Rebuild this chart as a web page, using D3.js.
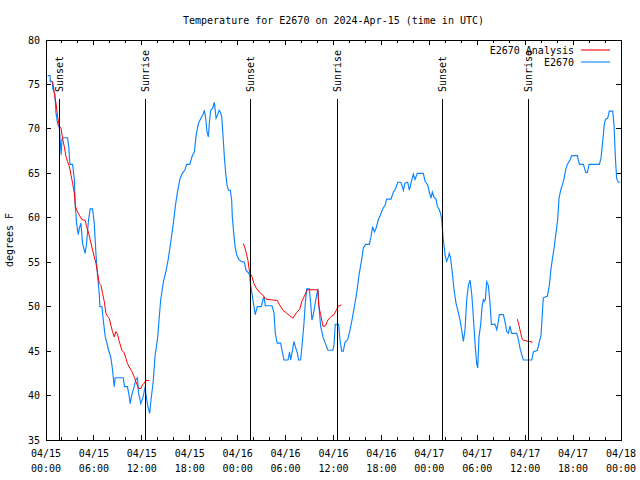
<!DOCTYPE html>
<html>
<head>
<meta charset="utf-8">
<script src="https://cdn.jsdelivr.net/npm/d3@7"></script>
<style>
  html, body { margin: 0; padding: 0; background: #fff; }
  svg text { font-family: "DejaVu Sans Mono", "Liberation Mono", monospace; font-size: 10px; fill: #000; }
</style>
</head>
<body>
<svg id="chart" width="640" height="480"></svg>
<script>
// ---------------- data ----------------
const titleText = "Temperature for E2670 on 2024-Apr-15 (time in UTC)";
const yLabel = "degrees F";
// hours since 04/15 00:00 UTC
const xTickHours = [0, 6, 12, 18, 24, 30, 36, 42, 48, 54, 60, 66, 72];
const xTickDates = ["04/15", "04/15", "04/15", "04/15", "04/16", "04/16", "04/16", "04/16", "04/17", "04/17", "04/17", "04/17", "04/18"];
const xTickTimes = ["00:00", "06:00", "12:00", "18:00", "00:00", "06:00", "12:00", "18:00", "00:00", "06:00", "12:00", "18:00", "00:00"];
const yTicks = [35, 40, 45, 50, 55, 60, 65, 70, 75, 80];

const sunEventHours = [1.67, 12.43, 25.58, 36.48, 49.62, 60.39];
const sunEventNames = ["Sunset", "Sunrise", "Sunset", "Sunrise", "Sunset", "Sunrise"];

const seriesNames = ["E2670 Analysis", "E2670"];

// observed temperature [hour, degF]
const observed = [
  [0.2,76],[0.5,76],[0.55,75.3],[0.8,75.3],[0.85,74.5],[1.1,74],[1.25,71.8],[1.45,70.6],[1.67,70.1],[1.9,67.1],
  [2.0,68.8],[2.15,69],[2.7,69],[2.85,68],[3.0,66],[3.33,66],[3.55,64.3],[3.67,61.3],[3.83,59.4],[4.04,58.1],
  [4.17,58.8],[4.37,59.4],[4.58,57.1],[4.9,56],[5.08,57.1],[5.33,59.8],[5.54,61],[5.83,61],[6.04,59.4],[6.25,56],
  [6.46,53.4],[6.67,51.5],[6.75,50],[7.0,50],[7.17,48.5],[7.42,46.6],[7.63,45.9],[7.83,45.1],[8.1,44.4],[8.33,42.9],
  [8.54,41],[8.67,42],[9.67,42],[9.83,41],[10.2,41],[10.42,39.9],[10.54,39.1],[10.75,40.1],[11.04,41],[11.25,41.8],
  [11.46,42],[11.58,40.3],[11.88,39.1],[12.17,39.9],[12.42,41],[12.5,40.2],[12.73,38.9],[12.98,38],[13.15,39.5],[13.44,41.7],
  [13.65,44.4],[13.99,46.6],[14.15,48.5],[14.36,50.75],[14.7,52.8],[15.0,53.9],[15.3,55.3],[15.66,57.5],[15.95,59.4],[16.24,61.6],
  [16.5,63.1],[16.78,64.4],[17.07,65],[17.4,65.4],[17.6,66],[18.0,66],[18.33,67],[18.58,67.4],[18.8,69.3],[19.08,70.6],
  [19.4,71.2],[19.7,71.7],[19.83,72.1],[20.0,71.2],[20.16,69.7],[20.33,69.1],[20.45,70.6],[20.62,72.1],[20.87,72.3],[21.08,73],
  [21.3,71.2],[21.5,71.6],[21.67,72.1],[21.83,71.9],[22.0,71.4],[22.2,68.8],[22.33,66.9],[22.5,65],[22.67,63.7],[22.83,63.1],
  [23.08,63.1],[23.25,62],[23.33,60.1],[23.5,58.3],[23.67,56.8],[23.88,55.8],[24.17,55.3],[24.42,55.1],[24.84,55],[25.05,54.1],
  [25.34,53.8],[25.5,53.6],[25.62,52.4],[25.79,51.5],[26.04,50],[26.2,49.1],[26.46,50],[26.96,50],[27.17,50.8],[27.29,51.1],
  [27.46,50.1],[28.3,50.1],[28.55,49.3],[28.71,47],[28.96,45.9],[29.38,45.9],[29.55,45.1],[29.8,44],[30.3,44],[30.5,44.9],
  [30.63,44],[30.8,44.8],[31.05,46.1],[31.22,45.5],[31.47,44.8],[31.63,44],[31.88,44],[32.05,45.5],[32.3,48.1],[32.47,50.4],
  [32.64,52],[32.97,52],[33.14,50.4],[33.3,48.5],[33.47,49.1],[33.64,50],[33.85,51.1],[34.05,52],[34.18,50],[34.39,47.8],
  [34.68,46.6],[34.97,45.9],[35.3,45.1],[35.93,45.1],[36.06,45.7],[36.22,48],[36.64,48],[36.81,46.3],[37.02,45],[37.23,45],
  [37.44,46],[37.78,46.3],[38.07,47.4],[38.36,48.7],[38.61,50],[38.9,51.5],[39.2,53.6],[39.53,55.3],[39.74,56.6],[40.03,57],
  [40.49,57],[40.7,57.9],[40.9,59],[41.12,58.4],[41.32,58.8],[41.62,59.8],[41.83,60.2],[42.16,61],[42.45,61.4],[42.66,62.1],
  [43.2,62.1],[43.5,62.9],[43.79,63.3],[44.04,64],[44.45,64],[44.75,63.1],[44.95,63.9],[45.29,64],[45.5,63.1],[45.79,64.2],
  [46.0,64.9],[46.2,64.3],[46.5,65],[47.25,65],[47.46,64.1],[47.79,63.7],[48.0,62.9],[48.21,62.2],[48.38,62.9],[48.6,62.3],
  [48.84,62.1],[49.0,61.3],[49.25,60.9],[49.4,60.5],[49.55,59.8],[49.67,58.4],[49.75,57.5],[49.88,56.6],[49.97,55.8],[50.17,55.1],
  [50.38,55.6],[50.5,56],[50.67,55.4],[50.88,53.8],[51.09,51.9],[51.34,50.4],[51.64,49.3],[51.84,48.5],[52.05,47.4],[52.26,46.1],
  [52.47,47.4],[52.68,50.8],[52.89,52.4],[53.1,53],[53.3,51.5],[53.51,48.9],[53.72,45.9],[53.93,43.6],[54.06,43.1],[54.22,46.6],
  [54.43,48],[54.6,50],[54.77,50.8],[54.9,50.6],[55.02,50.8],[55.18,52.8],[55.39,52.4],[55.6,50.4],[55.77,48],[56.23,48],
  [56.44,47.4],[56.6,48.1],[56.77,49.1],[57.27,49.1],[57.48,48.3],[57.69,47.2],[57.9,47],[58.1,47.8],[58.31,47],[58.94,47],
  [59.15,46.3],[59.36,45.3],[59.57,44.6],[59.78,44],[60.82,44],[61.03,44.9],[61.53,45.1],[61.74,45.9],[61.99,46.8],[62.2,50],
  [62.28,51],[62.78,51.2],[63.03,52.4],[63.24,54.3],[63.45,55.6],[63.66,56.8],[63.86,58.3],[64.07,59.8],[64.24,62.2],[64.45,63.1],
  [64.66,63.7],[64.87,64.4],[65.07,65.4],[65.28,66],[65.62,66.5],[65.83,67],[66.54,67],[66.79,66],[67.29,66],[67.58,65.1],
  [67.79,65.1],[68.0,66],[69.29,66],[69.5,66.7],[69.71,68.6],[69.92,70.6],[70.08,71.1],[70.33,71.2],[70.54,72],[70.96,72],
  [71.13,70.4],[71.3,66.7],[71.46,64.4],[71.67,64],[71.9,64]
];

// analysis temperature, three separate runs [hour, degF]
const analysisRun1 = [
  [0.63,75.4],[0.83,75.3],[1.04,74],[1.25,72.9],[1.46,71.4],[1.67,70.25],[1.88,70.1],[2.08,68.9],[2.29,68],[2.5,66.9],
  [2.7,66.3],[2.92,65.8],[3.13,64.8],[3.33,63.9],[3.54,62.8],[3.67,61.4],[3.83,60.9],[4.17,60.3],[4.5,59.8],[4.92,59.7],
  [5.08,59],[5.33,58.3],[5.54,57.5],[5.83,56.4],[6.04,55.6],[6.25,54.9],[6.46,53.8],[6.67,52.6],[6.88,52.4],[7.08,51.5],
  [7.29,50.6],[7.5,49.3],[7.71,48.9],[7.92,48.7],[8.13,47.9],[8.33,47.2],[8.54,46.6],[8.75,47.2],[8.96,46.9],[9.17,46.1],
  [9.5,45.1],[9.79,44.8],[10.0,44.2],[10.2,43.6],[10.5,43.1],[10.75,42.7],[11.04,42.1],[11.25,41.6],[11.58,40.8],[11.88,40.8],
  [12.08,41.2],[12.3,41.4],[12.5,41.7],[12.92,41.7]
];
const analysisRun2 = [
  [24.71,57.1],[24.92,56.6],[25.13,55.8],[25.29,55.2],[25.5,53.8],[25.79,53.4],[26.04,52.6],[26.33,52.1],[26.75,51.6],[27.17,51.3],
  [27.46,50.9],[27.8,50.8],[28.96,50.7],[29.25,50.2],[29.67,49.6],[30.09,49.3],[30.5,49],[30.92,48.7],[31.34,49.3],[31.76,49.7],
  [32.05,50.6],[32.4,51.3],[32.72,51.9],[34.05,51.9],[34.14,50.2],[34.39,49.1],[34.68,47.8],[34.97,47.8],[35.3,48.5],[35.72,48.9],
  [36.06,49.1],[36.35,49.6],[36.64,50.1],[36.98,50.2]
];
const analysisRun3 = [
  [59.02,48.6],[59.23,47.9],[59.44,47],[59.65,46.3],[59.86,46.2],[60.4,46.1],[60.94,46]
];

// ---------------- chart ----------------
const colors = { analysis: "#ff0000", observed: "#0a84ff" };
const svg = d3.select("#chart");
const plotL = 46, plotR = 621, plotT = 40, plotB = 440;

const x = d3.scaleLinear().domain([0, 72]).range([plotL, plotR]);
const y = d3.scaleLinear().domain([35, 80]).range([plotB, plotT]);

// title
svg.append("text").attr("x", (plotL + plotR) / 2).attr("y", 24)
  .attr("text-anchor", "middle").text(titleText);

// y label
svg.append("text").attr("transform", `translate(13,${(plotT + plotB) / 2}) rotate(-90)`)
  .attr("text-anchor", "middle").text(yLabel);

// ticks on all sides
const minorHours = d3.range(0, 73, 2).filter(h => h % 6 !== 0);
const gTicks = svg.append("g").attr("stroke", "#000").attr("stroke-width", 1).attr("shape-rendering", "crispEdges");
xTickHours.forEach(h => {
  gTicks.append("line").attr("x1", x(h)).attr("x2", x(h)).attr("y1", plotB).attr("y2", plotB - 5);
  gTicks.append("line").attr("x1", x(h)).attr("x2", x(h)).attr("y1", plotT).attr("y2", plotT + 5);
});
minorHours.forEach(h => {
  gTicks.append("line").attr("x1", x(h)).attr("x2", x(h)).attr("y1", plotB).attr("y2", plotB - 3);
  gTicks.append("line").attr("x1", x(h)).attr("x2", x(h)).attr("y1", plotT).attr("y2", plotT + 3);
});
yTicks.forEach(v => {
  gTicks.append("line").attr("x1", plotL).attr("x2", plotL + 5).attr("y1", y(v)).attr("y2", y(v));
  gTicks.append("line").attr("x1", plotR).attr("x2", plotR - 5).attr("y1", y(v)).attr("y2", y(v));
});

// x tick labels
const gx = svg.append("g");
xTickHours.forEach((h, i) => {
  const t = gx.append("text").attr("x", x(h)).attr("y", 457).attr("text-anchor", "middle");
  t.append("tspan").attr("x", x(h)).text(xTickDates[i]);
  t.append("tspan").attr("x", x(h)).attr("dy", 15).text(xTickTimes[i]);
});
// y tick labels
yTicks.forEach(v => {
  svg.append("text").attr("x", 40).attr("y", y(v)).attr("dy", "0.35em")
    .attr("text-anchor", "end").text(v);
});

// data lines
const line = d3.line().x(d => x(d[0])).y(d => y(d[1]));
svg.append("path").datum(observed).attr("d", line)
  .attr("fill", "none").attr("stroke", colors.observed).attr("stroke-width", 1.15);
[analysisRun1, analysisRun2, analysisRun3].forEach(run => {
  svg.append("path").datum(run).attr("d", line)
    .attr("fill", "none").attr("stroke", colors.analysis).attr("stroke-width", 1);
});

// sunrise / sunset markers
sunEventHours.forEach((h, i) => {
  const sx = Math.round(x(h)) + 0.5;
  svg.append("line").attr("x1", sx).attr("x2", sx)
    .attr("y1", 99).attr("y2", plotB).attr("stroke", "#000").attr("stroke-width", 1);
  svg.append("text")
    .attr("transform", `translate(${sx},92) rotate(-90)`)
    .attr("dy", "0.35em").attr("text-anchor", "start").text(sunEventNames[i]);
});

// frame
svg.append("rect").attr("x", plotL + 0.5).attr("y", plotT + 0.5)
  .attr("width", plotR - plotL).attr("height", plotB - plotT)
  .attr("fill", "none").attr("stroke", "#000").attr("stroke-width", 1);

// legend
const legend = svg.append("g");
[[seriesNames[0], colors.analysis, 50], [seriesNames[1], colors.observed, 62]].forEach(([name, c, ly]) => {
  legend.append("text").attr("x", 574).attr("y", ly).attr("dy", "0.35em")
    .attr("text-anchor", "end").text(name);
  legend.append("line").attr("x1", 581).attr("x2", 610).attr("y1", ly).attr("y2", ly)
    .attr("stroke", c).attr("stroke-width", 1.1);
});
</script>
</body>
</html>
